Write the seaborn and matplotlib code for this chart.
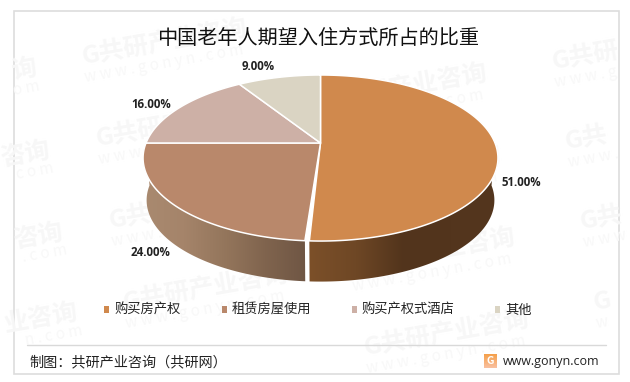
import numpy as np
import matplotlib
matplotlib.use("Agg")
import matplotlib.pyplot as plt
from matplotlib.colors import LinearSegmentedColormap
from matplotlib.patches import Patch, Polygon, Rectangle
import seaborn as sns

# data
categories = ["购买房产权", "租赁房屋使用", "购买产权式酒店", "其他"]
shares = [51, 24, 16, 9]
share_labels = ["51.00%", "24.00%", "16.00%", "9.00%"]
slice_colors = ["#D0894D", "#B9886B", "#CDB0A6", "#DAD4C3"]

title = "中国老年人期望入住方式所占的比重"
source_text = "制图：共研产业咨询（共研网）"
site_text = "www.gonyn.com"
wm_full = "G共研产业咨询"
wm_site = "w w w . g o n y n . c o m"

# layout, in pixels of the 630x382 picture
label_pos = [(521, 183), (150.5, 252), (151, 105), (258, 67)]
# watermark pieces: anchor x, y, text, small text
wm_whole = [(82, 57), (96, 139), (109, 221), (123, 303), (322, 102), (336, 184), (350, 266), (364, 348)]
wm_right = [(552, 62, "G共研", "w w w . g"), (565, 142, "G共", "w w w ."),
            (580, 222, "G共", "w w w"), (593, 303, "G", "w")]
wm_left = [(36, 68, "询", "o m"), (50, 150, "咨询", "c o m"),
           (63, 232, "咨询", ". c o m"), (78, 312, "业咨询", "n . c o m")]
CX, CY = 320.5, 143.0       # pie centre on the top face
RX, RY, PERSP = 174.5, 80.3, 0.181
DEPTH, BOTTOM_SCALE = 42.5, 0.98
GAP_DEG = 0.6
WM_ANGLE = 10

sns.set_theme(style="white")
plt.rcParams["font.family"] = ["Noto Sans CJK SC", "DejaVu Sans"]
palette = sns.color_palette(slice_colors)


def project(deg, dy=0.0, s=1.0):
    # clockwise from the top, circle seen in perspective
    t = np.radians(deg)
    u, v = np.sin(t), np.cos(t)
    w = 1 + PERSP * v
    return CX + s * RX * u / w, CY + dy - s * RY * v / w


def arc(a, b, dy=0.0, s=1.0):
    angs = np.linspace(a, b, 160)
    x, y = project(angs, dy, s)
    return np.column_stack([x, y])


def mark(x, y, s, ha="left", size=18, weight="bold", color="#F7F7F7"):
    ax.text(x, y, s, fontsize=size, fontweight=weight, color=color, rotation=WM_ANGLE,
            rotation_mode="anchor", ha=ha, va="center", zorder=1)


fig = plt.figure(figsize=(6.3, 3.82), dpi=100)
ax = fig.add_axes([0, 0, 1, 1])
ax.set_axis_off()

# frame and watermark
ax.add_patch(Rectangle((14.3, 11.3), 605, 362.7, fill=False, ec="#DDDDDD", lw=1.2, zorder=1))
for x, y in wm_whole:
    mark(x, y, wm_full)
    mark(x + 3, y + 21, wm_site, size=11, weight="normal", color="#F8F8F8")
for x, y, big, small in wm_right:
    mark(x, y, big)
    mark(x + 3, y + 21, small, size=11, weight="normal", color="#F8F8F8")
for x, y, big, small in wm_left:
    mark(x, y, big, ha="right")
    mark(x + 4, y + 18, small, ha="right", size=11, weight="normal", color="#F8F8F8")

# slice angles from the values
edges = np.cumsum([0] + shares) * 360.0 / sum(shares)
starts = edges[:-1].copy()
ends = edges[1:].copy()
ends[0] -= GAP_DEG
starts[1] += GAP_DEG

# side wall, only the part that faces the viewer
wall_stops = [
    ["#7C5029", "#6E4725", "#52341C", "#53351D", "#54361E"],
    ["#6F5644", "#80644E", "#94765C", "#A5846A", "#A98A70"],
]
for i in range(2):
    a, b = max(starts[i], 90), min(ends[i], 270)
    top = arc(a, b)
    bot = arc(a, b, DEPTH, BOTTOM_SCALE)
    poly = Polygon(np.vstack([top, bot[::-1]]), closed=True, fc="none", ec="none", zorder=2)
    ax.add_patch(poly)
    xs = np.r_[top[:, 0], bot[:, 0]]
    cmap = LinearSegmentedColormap.from_list("wall%d" % i, wall_stops[i])
    grad = np.linspace(0, 1, 256).reshape(1, -1)
    if i == 0:
        extent = (xs.min(), xs.max(), 290, 140)
    else:
        extent = (xs.max(), xs.min(), 290, 140)
    im = ax.imshow(grad, cmap=cmap, extent=extent, aspect="auto", zorder=2)
    im.set_clip_path(poly)

# top face
for i in range(len(shares)):
    pts = np.vstack([arc(starts[i], ends[i]), [(CX, CY)]])
    ax.add_patch(Polygon(pts, closed=True, fc=palette[i], ec="white", lw=1.1,
                         joinstyle="round", zorder=3))

# percent labels
for (x, y), s in zip(label_pos, share_labels):
    ax.text(x, y, s, fontsize=8.3, fontweight="bold", family=["Open Sans", "DejaVu Sans"],
            color="#222222", ha="center", va="center", zorder=5)

ax.text(318, 38, title, fontsize=14.5, color="#111111", ha="center", va="center", zorder=5)

# legend
handles = [Patch(fc=c, ec="none") for c in palette]
ax.legend(handles, categories, ncol=4, loc="center", bbox_to_anchor=(318, 310),
          bbox_transform=ax.transData, frameon=False, fontsize=9.55, labelcolor="#222222",
          handlelength=0.38, handleheight=0.5, handletextpad=0.35, columnspacing=3.1)

# footer
ax.plot([27, 606], [344.5, 344.5], color="#D9D9D9", lw=1, zorder=2)
ax.text(29.5, 362, source_text, fontsize=10.2, color="#222222", ha="left", va="center", zorder=5)
ax.text(502.5, 361, site_text, fontsize=9, family=["Open Sans", "DejaVu Sans"], color="#222222",
        ha="left", va="center", zorder=5)
logo = np.linspace(0, 1, 32).reshape(-1, 1)
ax.imshow(logo, cmap=LinearSegmentedColormap.from_list("logo", ["#F5A04A", "#F9C0A0"]),
          extent=(484, 497, 368, 354), aspect="auto", zorder=4)
ax.text(490.5, 361, "G", fontsize=7.5, fontweight="bold", color="white", ha="center", va="center", zorder=5)

ax.set_xlim(0, 630)
ax.set_ylim(382, 0)
fig.savefig("out.png", dpi=100)
